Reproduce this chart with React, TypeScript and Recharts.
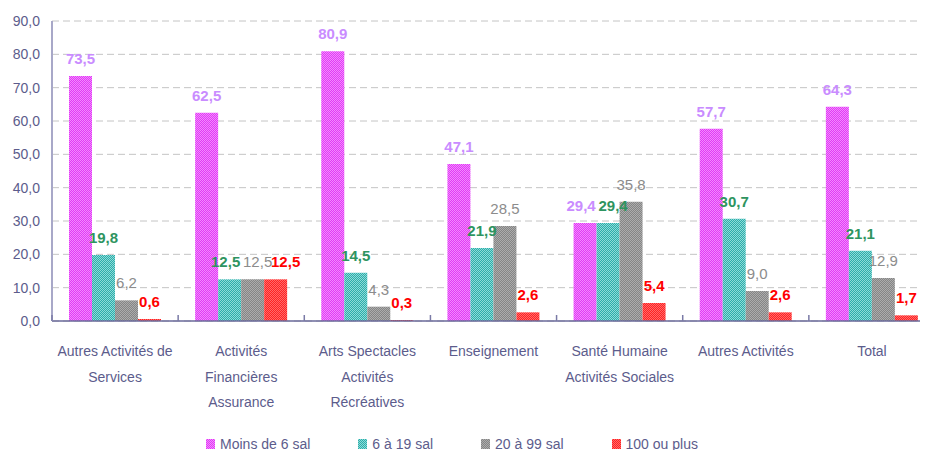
import { BarChart, Bar, XAxis, YAxis, CartesianGrid, LabelList } from 'recharts';

const categories = [
  'Autres Activités de\nServices',
  'Activités\nFinancières\nAssurance',
  'Arts Spectacles\nActivités\nRécréatives',
  'Enseignement',
  'Santé Humaine\nActivités Sociales',
  'Autres Activités',
  'Total',
];

const moins6 = [73.5, 62.5, 80.9, 47.1, 29.4, 57.7, 64.3];
const de6a19 = [19.8, 12.5, 14.5, 21.9, 29.4, 30.7, 21.1];
const de20a99 = [6.2, 12.5, 4.3, 28.5, 35.8, 9.0, 12.9];
const plus100 = [0.6, 12.5, 0.3, 2.6, 5.4, 2.6, 1.7];

const yTicks = [0, 10, 20, 30, 40, 50, 60, 70, 80, 90];

const data = categories.map((name, i) => ({
  name,
  moins6: moins6[i],
  de6a19: de6a19[i],
  de20a99: de20a99[i],
  plus100: plus100[i],
}));

const series = [
  { key: 'moins6', values: moins6, name: 'Moins de 6 sal', pattern: 'pMag', base: '#e03cf4', light: '#f488ff', label: '#c98cff', bold: true },
  { key: 'de6a19', values: de6a19, name: '6 à 19 sal', pattern: 'pTeal', base: '#2eacaa', light: '#8cdcd8', label: '#2e9460', bold: true },
  { key: 'de20a99', values: de20a99, name: '20 à 99 sal', pattern: 'pGrey', base: '#858585', light: '#acacac', label: '#8c8c8c', bold: false },
  { key: 'plus100', values: plus100, name: '100 ou plus', pattern: 'pRed', base: '#ff2222', light: '#ff6a6a', label: '#ff0000', bold: true },
];

const FONT = '"Liberation Sans", Arial, sans-serif';
const TEXT = '#5c5c8c';

const W = 936;
const H = 458;
const MARGIN = { top: 21, right: 1, left: 8, bottom: 0 };
const Y_AXIS_W = 44;
const X_AXIS_H = 137;
const PLOT_W = W - MARGIN.left - MARGIN.right - Y_AXIS_W;
const STEP = PLOT_W / categories.length;

const fmt = (v: number) => v.toFixed(1).replace('.', ',');

// nudge labels sideways when neighbouring bars have about the same height
const near = (a?: number, b?: number) => a !== undefined && b !== undefined && Math.abs(a - b) < 4;
const labelShift = (s: number, i: number) => {
  let run = 0;
  while (s - run - 1 >= 0 && near(series[s - run].values[i], series[s - run - 1].values[i])) run++;
  if (run > 0) return 5 * run;
  if (s + 1 < series.length && near(series[s].values[i], series[s + 1].values[i])) return -4;
  return 0;
};

const XTick = ({ x, y, payload }: any) => {
  const lines = String(payload.value).split('\n');
  return (
    <g>
      <line x1={x - STEP / 2} x2={x - STEP / 2} y1={y} y2={y - 6} stroke="#7a7aa6" strokeWidth={1.5} />
      {lines.map((l, i) => (
        <text
          key={i}
          x={x}
          y={y + 35 + i * 25.5}
          textAnchor="middle"
          fill={TEXT}
          fontSize={14}
          fontFamily={FONT}
        >
          {l}
        </text>
      ))}
    </g>
  );
};

const makeLabel = (s: number) => (props: any) => {
  const { x, y, width, value, index } = props;
  const sr = series[s];
  return (
    <text
      x={x + width / 2 + labelShift(s, index)}
      y={y - 12}
      textAnchor="middle"
      fill={sr.label}
      fontSize={15}
      fontWeight={sr.bold ? 700 : 400}
      fontFamily={FONT}
    >
      {fmt(Number(value))}
    </text>
  );
};

export default function App() {
  return (
    <div style={{ margin: -8, width: 928, height: 458, overflow: 'hidden', background: '#fff' }}>
      <BarChart
        width={W}
        height={H}
        data={data}
        margin={MARGIN}
        barCategoryGap={17}
        barGap={0}
      >
        <defs>
          {series.map((s) => (
            <pattern key={s.pattern} id={s.pattern} width={2} height={2} patternUnits="userSpaceOnUse">
              <rect width={2} height={2} fill={s.base} />
              <rect x={0} y={0} width={1} height={1} fill={s.light} />
              <rect x={1} y={1} width={1} height={1} fill={s.light} />
            </pattern>
          ))}
        </defs>
        <CartesianGrid vertical={false} stroke="#c4c4c4" strokeDasharray="7 4" />
        <XAxis
          dataKey="name"
          height={X_AXIS_H}
          interval={0}
          tickSize={0}
          tickMargin={0}
          tick={<XTick />}
          axisLine={{ stroke: '#6a6a9a', strokeWidth: 1.5 }}
        />
        <YAxis
          width={Y_AXIS_W}
          domain={[0, 90]}
          ticks={yTicks}
          tickFormatter={fmt}
          tickSize={4}
          tickMargin={8}
          tickLine={false}
          axisLine={{ stroke: '#a8a8c8', strokeWidth: 2 }}
          tick={{ fill: TEXT, fontSize: 14, fontFamily: FONT }}
        />
        {series.map((s, si) => (
          <Bar key={s.key} dataKey={s.key} name={s.name} fill={`url(#${s.pattern})`} isAnimationActive={false}>
            <LabelList dataKey={s.key} content={makeLabel(si)} />
          </Bar>
        ))}
      </BarChart>
      <div
        style={{
          position: 'relative',
          top: -22,
          width: 904,
          height: 16,
          display: 'flex',
          justifyContent: 'center',
          gap: 48,
          fontFamily: FONT,
          fontSize: 14,
          lineHeight: '16px',
          color: TEXT,
        }}
      >
        {series.map((s) => (
          <div key={s.key} style={{ display: 'flex', alignItems: 'center' }}>
            <svg width={9} height={10} style={{ marginRight: 5 }}>
              <rect width={9} height={10} fill={`url(#${s.pattern})`} />
            </svg>
            <span>{s.name}</span>
          </div>
        ))}
      </div>
    </div>
  );
}
